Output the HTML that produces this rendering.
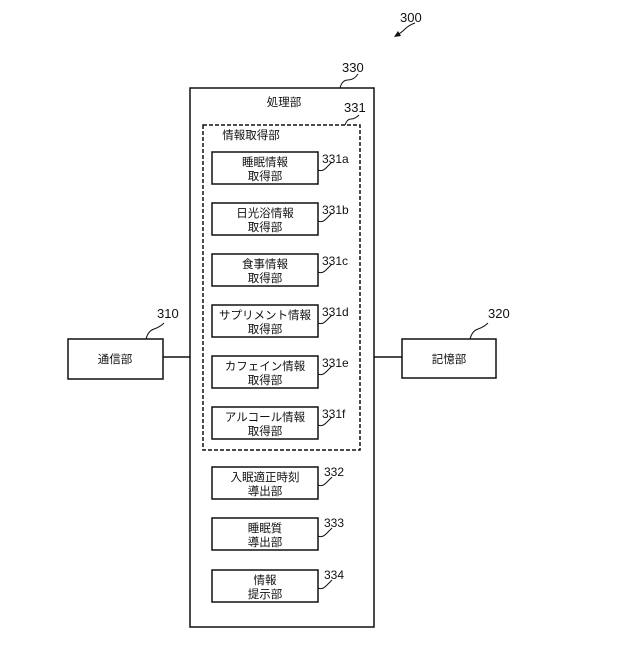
<!DOCTYPE html>
<html><head><meta charset="utf-8"><style>
body{margin:0;background:#fff}
svg text{font-family:"Liberation Sans","Noto Sans CJK JP",sans-serif;fill:#111}
</style></head><body>
<svg width="640" height="640" viewBox="0 0 640 640" xmlns="http://www.w3.org/2000/svg">
<g fill="none" stroke="#111" stroke-width="1.5">
<rect x="190" y="88" width="184" height="539"/>
<rect x="203" y="125" width="157" height="325" stroke-dasharray="4,2"/>
<rect x="68" y="339" width="95" height="40"/>
<rect x="402" y="339" width="94" height="39"/>
<line x1="163" y1="357" x2="190" y2="357"/>
<line x1="374" y1="357" x2="402" y2="357"/>
<rect x="212" y="152" width="106" height="32"/>
<rect x="212" y="203" width="106" height="32"/>
<rect x="212" y="254" width="106" height="32"/>
<rect x="212" y="305" width="106" height="32"/>
<rect x="212" y="356" width="106" height="32"/>
<rect x="212" y="407" width="106" height="32"/>
<rect x="212" y="467" width="106" height="32"/>
<rect x="212" y="518" width="106" height="32"/>
<rect x="212" y="570" width="106" height="32"/>
<path d="M340 88 q2-8 8-8 t10-6" stroke-width="1"/>
<path d="M345 125 q2-6 6-6 t8-4" stroke-width="1"/>
<path d="M318 170 q4 2 8-2 t6-6" stroke-width="1"/>
<path d="M318 221 q4 2 8-2 t6-6" stroke-width="1"/>
<path d="M318 272 q4 2 8-2 t6-6" stroke-width="1"/>
<path d="M318 323 q4 2 8-2 t6-6" stroke-width="1"/>
<path d="M318 374 q4 2 8-2 t6-6" stroke-width="1"/>
<path d="M318 425 q4 2 8-2 t6-6" stroke-width="1"/>
<path d="M318 485 q4 2 8-2 t6-6" stroke-width="1"/>
<path d="M318 536 q4 2 8-2 t6-6" stroke-width="1"/>
<path d="M318 588 q4 2 8-2 t6-6" stroke-width="1"/>
<path d="M146 339 q2-8 8-10 t10-6" stroke-width="1"/>
<path d="M470 339 q2-8 8-10 t10-6" stroke-width="1"/>
<path d="M397 35 q4-2 8-6 t10-6" stroke-width="1"/>
</g>
<path d="M394 37 l7-1 l-3-5 z" fill="#111"/>
<g font-size="12">
<text x="400" y="22" font-size="13">300</text>
<text x="342" y="72" font-size="13">330</text>
<text x="344" y="112" font-size="13">331</text>
<text x="157" y="318" font-size="13">310</text>
<text x="488" y="318" font-size="13">320</text>
<text x="322" y="163">331a</text>
<text x="322" y="214">331b</text>
<text x="322" y="265">331c</text>
<text x="322" y="316">331d</text>
<text x="322" y="367">331e</text>
<text x="322" y="418">331f</text>
<text x="324" y="476">332</text>
<text x="324" y="527">333</text>
<text x="324" y="579">334</text>
</g>
<g font-size="11.5" text-anchor="middle">
<text x="284" y="106">処理部</text>
<text x="251" y="139">情報取得部</text>
<text x="115" y="363">通信部</text>
<text x="449" y="363">記憶部</text>
<text x="265" y="166">睡眠情報</text><text x="265" y="180">取得部</text>
<text x="265" y="217">日光浴情報</text><text x="265" y="231">取得部</text>
<text x="265" y="268">食事情報</text><text x="265" y="282">取得部</text>
<text x="265" y="319">サプリメント情報</text><text x="265" y="333">取得部</text>
<text x="265" y="370">カフェイン情報</text><text x="265" y="384">取得部</text>
<text x="265" y="421">アルコール情報</text><text x="265" y="435">取得部</text>
<text x="265" y="481">入眠適正時刻</text><text x="265" y="495">導出部</text>
<text x="265" y="532">睡眠質</text><text x="265" y="546">導出部</text>
<text x="265" y="584">情報</text><text x="265" y="598">提示部</text>
</g>
</svg>
</body></html>
